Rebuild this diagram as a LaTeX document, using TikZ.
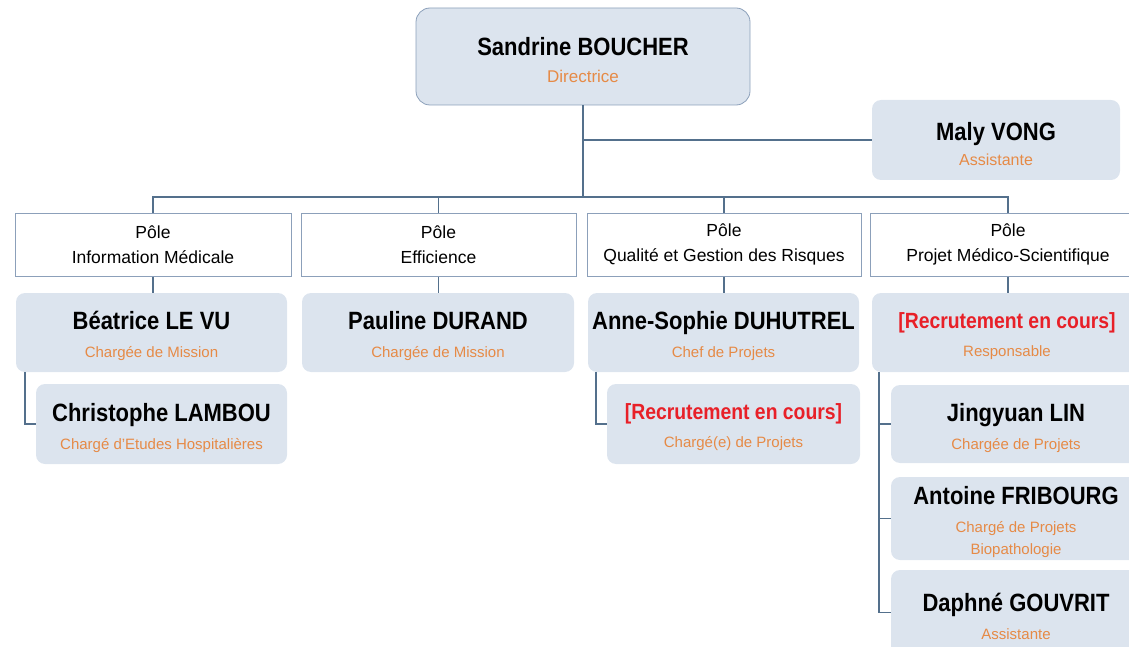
\documentclass[tikz,border=0pt]{standalone}
\usepackage{fontspec}
\setmainfont{Liberation Sans}
\newfontfamily\namefamily[FakeStretch=0.88]{Liberation Sans}

\definecolor{boxfill}{RGB}{220,228,238}
\definecolor{boxline}{RGB}{140,160,186}
\definecolor{linkblue}{RGB}{84,112,140}
\definecolor{roleorange}{RGB}{230,138,70}
\definecolor{vacantred}{RGB}{232,32,40}

\newcommand{\pname}[1]{{\namefamily\bfseries\fontsize{25}{28}\selectfont\rule{0pt}{26pt}#1}}
\newcommand{\pvacant}[1]{{\namefamily\bfseries\fontsize{22}{26}\selectfont\color{vacantred}\rule{0pt}{23pt}#1}}
\newcommand{\prole}[1]{{\color{roleorange}#1}}

\begin{document}
\begin{tikzpicture}[x=1pt, y=-1pt,
        person/.style={rectangle, rounded corners=9pt, fill=boxfill, inner sep=0pt, align=center,
            minimum width=271pt, minimum height=79pt, font=\fontsize{15}{28}\selectfont},
        pole/.style={rectangle, draw=boxline, line width=1pt, fill=white, inner sep=0pt, align=center,
            minimum height=63pt, font=\fontsize{17.5}{25}\selectfont},
        link/.style={draw=linkblue, line width=1.8pt},
        ]
        \useasboundingbox (0,0) rectangle (1129,647);
        \clip (0,0) rectangle (1129,647);

        \node (director) at (583,56.5) [person, draw=boxline, line width=0.8pt, rounded corners=14pt,
            minimum width=334pt, minimum height=97pt, font=\fontsize{17}{27}\selectfont]
            {\pname{Sandrine BOUCHER}\\\prole{Directrice}};
        \node (assistant) at (996,140) [person, minimum width=248pt, minimum height=80pt,
            font=\fontsize{16}{25}\selectfont] {\pname{Maly VONG}\\\prole{Assistante}};

        \node (poleinfo) at (153,244.5) [pole, minimum width=276pt] {Pôle\\Information Médicale};
        \node (poleeff) at (438.5,244.5) [pole, minimum width=275pt] {Pôle\\Efficience};
        \node (polequal) at (724,244.5) [pole, minimum width=274pt] {Pôle\\Qualité et Gestion des Risques};
        \node (poleproj) at (1008,244.5) [pole, minimum width=276pt] {Pôle\\Projet Médico-Scientifique};

        \node (levu) at (151.5,332.5) [person] {\pname{Béatrice LE VU}\\\prole{Chargée de Mission}};
        \node (durand) at (438,332.5) [person, minimum width=272pt] {\pname{Pauline DURAND}\\\prole{Chargée de Mission}};
        \node (duhutrel) at (723.5,332.5) [person] {\pname{Anne-Sophie DUHUTREL}\\\prole{Chef de Projets}};
        \node (vacantproj) at (1007,332.5) [person, minimum width=270pt] {\pvacant{[Recrutement en cours]}\\\prole{Responsable}};

        \node (lambou) at (161.5,424) [person, minimum width=251pt, minimum height=80pt]
            {\pname{Christophe LAMBOU}\\\prole{Chargé d'Etudes Hospitalières}};
        \node (vacantqual) at (733.5,424) [person, minimum width=253pt, minimum height=80pt]
            {\pvacant{[Recrutement en cours]}\\\prole{Chargé(e) de Projets}};
        \node (lin) at (1016,424) [person, minimum width=250pt, minimum height=78pt]
            {\pname{Jingyuan LIN}\\\prole{Chargée de Projets}};
        \node (fribourg) at (1016,518.5) [person, minimum width=250pt, minimum height=83pt]
            {\pname{Antoine FRIBOURG}\\\prole{Chargé de Projets}\\[-6pt]\prole{Biopathologie}};
        \node (gouvrit) at (1016,612.5) [person, minimum width=250pt, minimum height=85pt]
            {\pname{Daphné GOUVRIT}\\\prole{Assistante}};

        \coordinate (bus) at (583,197);
        \draw[link] (director) -- (bus);
        \draw[link] (director.south |- assistant.west) -- (assistant.west);
        \draw[link] (poleinfo) |- (bus) -| (poleproj);
        \draw[link] (poleeff) -- (poleeff |- bus);
        \draw[link] (polequal) -- (polequal |- bus);

        \draw[link] (poleinfo.south) -- (poleinfo.south |- levu.north);
        \draw[link] (poleeff.south) -- (poleeff.south |- durand.north);
        \draw[link] (polequal.south) -- (polequal.south |- duhutrel.north);
        \draw[link] (poleproj.south) -- (poleproj.south |- vacantproj.north);

        \coordinate (levuspine) at ([xshift=9pt]levu.south west);
        \coordinate (qualspine) at ([xshift=8pt]duhutrel.south west);
        \coordinate (projspine) at ([xshift=7pt]vacantproj.south west);
        \draw[link] (levuspine) |- (lambou.west);
        \draw[link] (qualspine) |- (vacantqual.west);
        \draw[link] (projspine) |- (gouvrit.west);
        \draw[link] (projspine |- lin.west) -- (lin.west);
        \draw[link] (projspine |- fribourg.west) -- (fribourg.west);

    \end{tikzpicture}
\end{document}
